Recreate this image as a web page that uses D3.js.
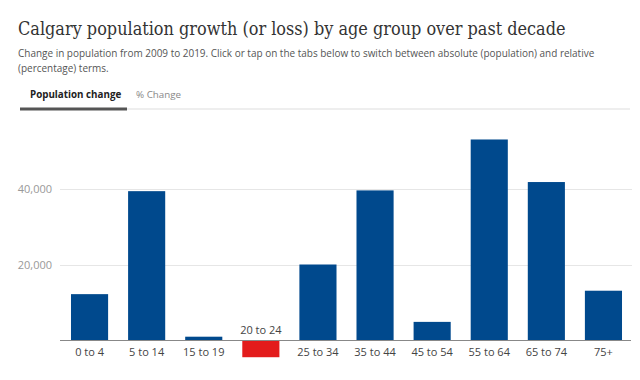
<!DOCTYPE html>
<html><head><meta charset="utf-8">
<script src="https://cdn.jsdelivr.net/npm/d3@7"></script>
<style>
html,body{margin:0;padding:0;background:#fff;}
svg{display:block;}
</style>
</head><body>
<svg id="c" width="640" height="380"></svg>
<script>
const categories = ["0 to 4","5 to 14","15 to 19","20 to 24","25 to 34","35 to 44","45 to 54","55 to 64","65 to 74","75+"];
const values = [12200, 39300, 1000, -4400, 20000, 39500, 4900, 52900, 41700, 13100];
const yTicks = [20000, 40000];
const title = "Calgary population growth (or loss) by age group over past decade";
const subtitle = ["Change in population from 2009 to 2019. Click or tap on the tabs below to switch between absolute (population) and relative", "(percentage) terms."];
const tabs = ["Population change", "% Change"];

const svg = d3.select("#c");
const sans = "'Open Sans', 'Noto Sans', sans-serif";

const t = svg.append("text").attr("x", 18).attr("y", 35)
  .attr("font-family", "'DejaVu Serif Condensed', 'DejaVu Serif', serif")
  .attr("font-stretch", "condensed").attr("font-size", 20)
  .attr("fill", "#333")
  .text(title);
const w = t.node().getComputedTextLength();
if (w > 0) t.attr("font-size", 20 * 548 / w);

const subs = subtitle.map((s, i) => svg.append("text").attr("x", 18).attr("y", 57 + i * 15)
    .attr("font-family", sans).attr("font-size", 10.5).attr("fill", "#555")
    .text(s));
const sw = subs[0].node().getComputedTextLength();
if (sw > 0) subs.forEach(s => s.attr("font-size", 10.5 * 577 / sw));

svg.append("line").attr("x1", 20).attr("x2", 630).attr("y1", 109).attr("y2", 109)
  .attr("stroke", "#ddd").attr("stroke-width", 1);
svg.append("line").attr("x1", 20).attr("x2", 127).attr("y1", 109).attr("y2", 109)
  .attr("stroke", "#555").attr("stroke-width", 3);
svg.append("text").attr("x", 30).attr("y", 98).attr("font-family", sans)
  .attr("font-size", 9.8).attr("font-weight", 700).attr("fill", "#222").text(tabs[0]);
svg.append("text").attr("x", 136).attr("y", 98).attr("font-family", sans)
  .attr("font-size", 9.8).attr("fill", "#888").text(tabs[1]);

const x = d3.scaleBand().domain(categories).range([61, 632])
  .paddingInner(0.35).paddingOuter(0.175);
const y = d3.scaleLinear().domain([0, 60000]).range([340.5, 112.5]);

const grid = svg.append("g");
grid.selectAll("line").data(yTicks).join("line")
  .attr("x1", 60).attr("x2", 632)
  .attr("y1", d => Math.round(y(d)) + 0.5).attr("y2", d => Math.round(y(d)) + 0.5)
  .attr("stroke", "#e6e6e6");
grid.selectAll("text").data(yTicks).join("text")
  .attr("x", 52).attr("y", d => y(d) + 4).attr("text-anchor", "end")
  .attr("font-family", sans).attr("font-size", 11).attr("fill", "#999")
  .text(d => d3.format(",")(d));

svg.append("g").selectAll("rect").data(values).join("rect")
  .attr("x", (d, i) => x(categories[i]))
  .attr("width", x.bandwidth())
  .attr("y", d => d >= 0 ? y(d) : y(0))
  .attr("height", d => Math.abs(y(d) - y(0)))
  .attr("fill", d => d >= 0 ? "#00498d" : "#e31c1c");

svg.append("line").attr("x1", 60).attr("x2", 631)
  .attr("y1", y(0)).attr("y2", y(0)).attr("stroke", "#888").attr("stroke-width", 1);

svg.append("g").selectAll("text").data(values).join("text")
  .attr("x", (d, i) => x(categories[i]) + x.bandwidth() / 2)
  .attr("y", d => d >= 0 ? y(0) + 15.5 : y(0) - 6.5)
  .attr("text-anchor", "middle")
  .attr("font-family", sans).attr("font-size", 11).attr("fill", "#444")
  .text((d, i) => categories[i]);
</script>
</body></html>
